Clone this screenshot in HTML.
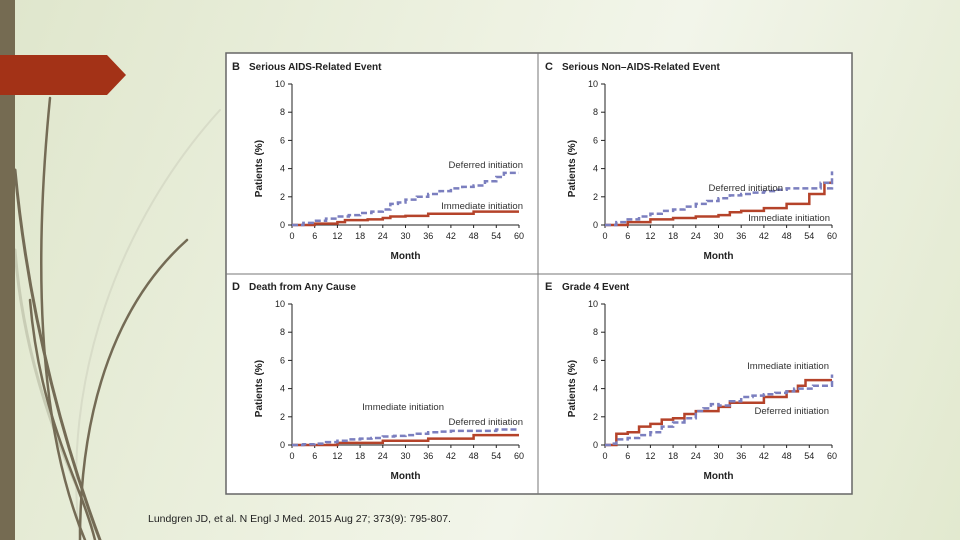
<!DOCTYPE html>
<html><head><meta charset="utf-8">
<style>
body{margin:0;width:960px;height:540px;overflow:hidden;background:linear-gradient(110deg,#dfe6cc 0%,#eef2e2 45%,#f2f5ea 60%,#e2e9cf 100%);font-family:"Liberation Sans",sans-serif;}
svg{position:absolute;left:0;top:0}
</style></head><body>
<svg id="s" width="960" height="540" xmlns="http://www.w3.org/2000/svg" font-family="Liberation Sans, sans-serif">
<g fill="none" stroke-linecap="round">
<path d="M220,110 C120,220 60,380 80,540" stroke="#d8dcc8" stroke-width="2"/>
<path d="M15,250 C25,380 70,470 100,540" stroke="#c8ccb5" stroke-width="3"/>
<path d="M50,98 C35,250 35,420 85,540" stroke="#746b55" stroke-width="2.5"/>
<path d="M15,170 C30,330 70,460 100,540" stroke="#746b55" stroke-width="3"/>
<path d="M187,240 C120,300 80,400 80,540" stroke="#746b55" stroke-width="2.5"/>
<path d="M30,300 C40,420 80,480 95,540" stroke="#746b55" stroke-width="2.5"/>
</g>
<rect x="0" y="0" width="15" height="540" fill="#756b52"/>
<polygon points="0,55 107,55 126,75 107,95 0,95" fill="#a33217"/>
<rect x="226" y="53" width="626" height="441" fill="#fff" stroke="#666" stroke-width="1.5"/>
<line x1="538" y1="53" x2="538" y2="494" stroke="#777" stroke-width="1"/>
<line x1="226" y1="274" x2="852" y2="274" stroke="#777" stroke-width="1"/>
<text x="148" y="522" font-size="10.5" fill="#222">Lundgren JD, et al. N Engl J Med. 2015 Aug 27; 373(9): 795-807.</text>
<g id="charts"></g>
</svg>
<script>
const monthTicks=[0,6,12,18,24,30,36,42,48,54,60];
const pctTicks=[0,2,4,6,8,10];
const letters=["B","C","D","E"];
const titles=["Serious AIDS-Related Event","Serious Non–AIDS-Related Event","Death from Any Cause","Grade 4 Event"];
const bDefM=[0,3,6,9,12,15,18,21,24,26,28,30,33,36,39,42,45,48,51,54,56,60];
const bDefV=[0,0.15,0.3,0.45,0.6,0.7,0.85,0.95,1.1,1.5,1.6,1.8,2.0,2.2,2.4,2.6,2.7,2.8,3.1,3.4,3.7,3.7];
const bImmM=[0,6,12,14,20,24,26,30,36,48,60];
const bImmV=[0,0.1,0.2,0.35,0.4,0.5,0.6,0.65,0.8,0.95,0.95];
const cDefM=[0,3,6,9,12,15,18,21,24,27,30,33,36,39,42,45,48,54,57,59,60];
const cDefV=[0,0.2,0.4,0.6,0.8,1.0,1.1,1.3,1.5,1.7,1.9,2.1,2.2,2.3,2.4,2.5,2.6,2.6,3.0,2.6,3.8];
const cImmM=[0,6,12,18,24,30,33,36,42,48,54,58,60];
const cImmV=[0,0.2,0.4,0.5,0.6,0.7,0.9,1.0,1.2,1.5,2.2,3.0,3.0];
const dDefM=[0,3,6,9,12,15,18,21,24,27,30,33,36,39,42,48,54,60];
const dDefV=[0,0.05,0.1,0.2,0.3,0.4,0.45,0.5,0.6,0.65,0.7,0.8,0.9,0.95,1.0,1.0,1.1,1.1];
const dImmM=[0,12,24,36,47,48,60];
const dImmV=[0,0.15,0.3,0.45,0.45,0.7,0.7];
const eDefM=[0,2,3,6,9,12,15,18,21,24,26,28,30,33,36,39,42,45,48,50,55,58,60];
const eDefV=[0,0.1,0.4,0.5,0.7,0.9,1.3,1.6,1.9,2.4,2.6,2.9,2.8,3.1,3.4,3.5,3.6,3.7,3.8,4.0,4.2,4.2,5.0];
const eImmM=[0,3,6,9,12,15,18,21,24,30,33,39,42,48,51,53,60];
const eImmV=[0,0.8,0.9,1.3,1.5,1.8,1.9,2.2,2.4,2.7,3.0,3.0,3.4,3.8,4.2,4.6,4.6];

const NS="http://www.w3.org/2000/svg";
const root=document.getElementById('charts');
function mk(tag,attrs,parent){const e=document.createElementNS(NS,tag);for(const k in attrs)e.setAttribute(k,attrs[k]);(parent||root).appendChild(e);return e;}
const panels=[
 {ox:292,oy:225,id:'b',def:[bDefM,bDefV],imm:[bImmM,bImmV],labels:[["Deferred initiation",523,168],["Immediate initiation",523,209]]},
 {ox:605,oy:225,id:'c',def:[cDefM,cDefV],imm:[cImmM,cImmV],labels:[["Deferred initiation",783,191],["Immediate initiation",830,221]]},
 {ox:292,oy:445,id:'d',def:[dDefM,dDefV],imm:[dImmM,dImmV],labels:[["Immediate initiation",444,410],["Deferred initiation",523,425]]},
 {ox:605,oy:445,id:'e',def:[eDefM,eDefV],imm:[eImmM,eImmV],labels:[["Immediate initiation",829,369],["Deferred initiation",829,414]]}
];
const W=227,H=141;
panels.forEach((p,i)=>{
 const g=mk('g',{});
 
 
 const xs=m=>p.ox+m/60*W, ys=v=>p.oy-v/10*H;
 const lt0=mk('text',{x:p.ox-60,y:p.oy-155,'font-size':11,'font-weight':'bold',fill:'#222'},g);
 lt0.textContent=letters[i];
 
 
 const t=mk('text',{x:p.ox-43,y:p.oy-155,'font-size':10,'font-weight':'bold',fill:'#222'},g);
 t.textContent=titles[i];
 
 
 mk('line',{x1:p.ox,y1:p.oy,x2:p.ox,y2:ys(10),stroke:'#222','stroke-width':1},g);
 mk('line',{x1:p.ox,y1:p.oy,x2:xs(60),y2:p.oy,stroke:'#222','stroke-width':1},g);
 pctTicks.forEach(v=>{
  mk('line',{x1:p.ox-4,y1:ys(v),x2:p.ox,y2:ys(v),stroke:'#222'},g);
  const tx=mk('text',{x:p.ox-7,y:ys(v)+3,'font-size':9,'text-anchor':'end',fill:'#222'},g);
  tx.textContent=v;
  
  
 });
 monthTicks.forEach(m=>{
  mk('line',{x1:xs(m),y1:p.oy,x2:xs(m),y2:p.oy+3,stroke:'#222'},g);
  const tx=mk('text',{x:xs(m),y:p.oy+14,'font-size':9,'text-anchor':'middle',fill:'#222'},g);
  tx.textContent=m;
  
  
 });
 const xt=mk('text',{x:xs(30),y:p.oy+34,'font-size':10,'font-weight':'bold','text-anchor':'middle',fill:'#222'},g);
 xt.textContent='Month';
 
 
 const yt=mk('text',{x:0,y:0,'font-size':10,'font-weight':'bold','text-anchor':'middle',fill:'#222',transform:`translate(${p.ox-30},${ys(4)}) rotate(-90)`},g);
 yt.textContent='Patients (%)';
 
 
 function step(M,V){let d=`M${xs(M[0])},${ys(V[0])}`;for(let k=1;k<M.length;k++){d+=`H${xs(M[k])}V${ys(V[k])}`;}return d;}
 const pi=mk('path',{d:step(p.imm[0],p.imm[1]),fill:'none',stroke:'#b5432a','stroke-width':2.5},g);
 
 
 const pd=mk('path',{d:step(p.def[0],p.def[1]),fill:'none',stroke:'#7b7fbf','stroke-width':2.5,'stroke-dasharray':'6 3'},g);
 
 
 p.labels.forEach(l=>{
  const lt=mk('text',{x:l[1],y:l[2],'font-size':9.5,'text-anchor':'end',fill:'#333'},g);
  lt.textContent=l[0];
  
  
 });
});
</script>
</body></html>
